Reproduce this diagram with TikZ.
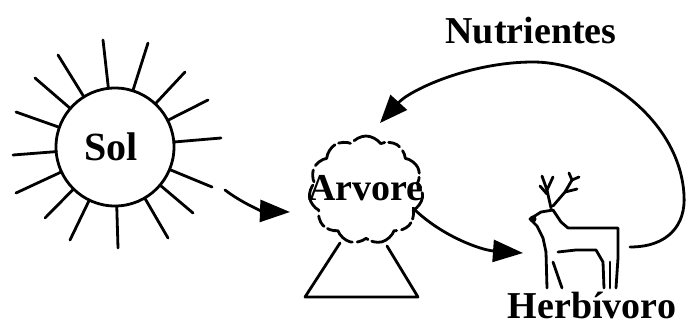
\documentclass[tikz,border=0pt]{standalone}
\usepackage{fontspec}
\setmainfont{Liberation Serif}
\usetikzlibrary{arrows.meta,calc,shapes.symbols}
\begin{document}
\begin{tikzpicture}[x=1pt,y=-1pt,
  ink/.style={line width=2.8pt, line cap=round, line join=round},
  lbl/.style={font=\bfseries\fontsize{38}{40}\selectfont, inner sep=0pt},
  flow/.style={ink, -{Triangle[length=30pt,width=22pt]}},
]
\useasboundingbox (0,0) rectangle (686,325);

% Sun with its rays
\node[circle, draw, line width=2.8pt, minimum size=118pt, inner sep=0pt] (sun) at (115,147) {};
\node[lbl, font=\bfseries\fontsize{40}{42}\selectfont] (sol) at (111,147) {Sol};
\foreach \x/\y in {103/40,148/43,185/72,208/100,221/138,212/187,193/213,168/238,
                   118/248,70/240,45/218,16/193,13/155,16/112,35/78,58/55}
  \draw[ink] ($(sun.center)!59pt!(\x,\y)$) -- (\x,\y);

% Tree: broken cloudy crown over a trapezoid trunk
\node[cloud, draw, ink, cloud puffs=11, cloud puff arc=110, aspect=1.05,
      minimum width=114pt, minimum height=108pt,
      dash pattern=on 30pt off 5pt on 12pt off 4pt] (crown) at (366,190) {};
\coordinate (trunkTL) at (340,243);
\coordinate (trunkTR) at (387,246);
\coordinate (trunkBL) at (305,297);
\coordinate (trunkBR) at (418,297);
\draw[ink] (trunkTL) -- (trunkBL) -- (trunkBR) -- (trunkTR);
\node[lbl] (arvore) at (366,188) {Arvore};

% Deer
\begin{scope}[ink]
  % antlers
  \draw (551,208) -- (547,190) -- (542,176);
  \draw (547,190) -- (553,177);
  \draw (547,194) -- (540,186);
  \draw (553,206) -- (565,192) -- (572,180);
  \draw (565,192) -- (577,189);
  \draw (572,180) -- (569,173);
  \draw (572,180) -- (579,177);
  % head and neck
  \fill (533,219) circle (3.5pt);
  \draw (553,210) -- (541,212) -- (530,219) -- (537,226) -- (543,238) -- (546,252);
  \draw (553,210) -- (561,222) -- (568,228);
  % back and rump
  \draw (568,228) -- (618,228) -- (618,258) -- (616,288);
  % belly and legs
  \draw (546,252) -- (547,288);
  \draw (553,262) -- (562,288);
  \draw (558,252) -- (576,250) -- (596,250) -- (603,262) -- (604,288);
  \draw (610,262) -- (610,288);
\end{scope}
\node[lbl] (herb) at (592,305) {Herbívoro};

% Nutrient label
\node[lbl] (nutr) at (531,31) {Nutrientes};

% Flows
\coordinate (sunOut) at (225,190);
\coordinate (treeIn) at (290,212);
\draw[flow] (sunOut) .. controls (242,203) and (262,211) .. (treeIn);

\coordinate (treeOut) at (413,208);
\coordinate (deerIn) at (523,253);
\draw[flow] (treeOut) .. controls (440,235) and (480,250) .. (deerIn);

\coordinate (deerOut) at (630,247);
\coordinate (loopRight) at (684,195);
\coordinate (loopTop) at (533,62);
\coordinate (treeTop) at (380,123);
\draw[ink, -{Triangle[length=28pt,width=22pt]}]
  (deerOut) .. controls (668,247) and (686,225) .. (loopRight)
  .. controls (680,120) and (600,62) .. (loopTop)
  .. controls (470,62) and (410,90) .. (treeTop);
\end{tikzpicture}
\end{document}
